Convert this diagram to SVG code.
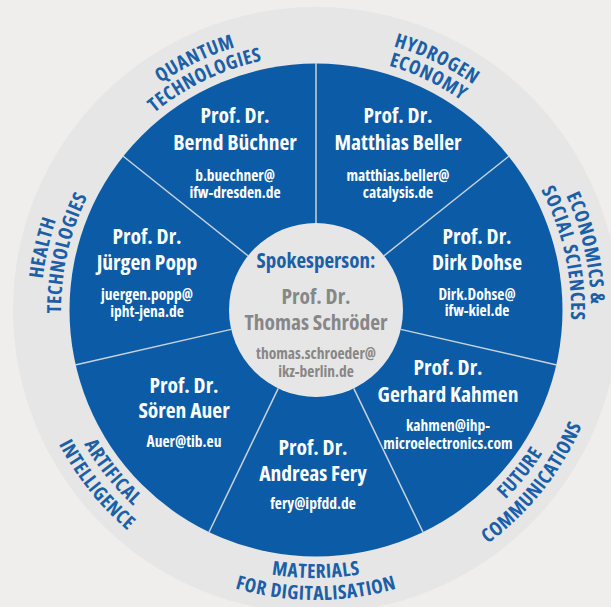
<svg xmlns="http://www.w3.org/2000/svg" xmlns:xlink="http://www.w3.org/1999/xlink" width="611" height="607" viewBox="0 0 611 607">
<style>
.t{font-family:"Open Sans","Noto Sans","DejaVu Sans",sans-serif;font-weight:700;font-stretch:condensed;text-anchor:middle}
.nm{font-size:21.5px;fill:#ffffff}
.em{font-size:15.5px;fill:#ffffff}
.gr{fill:#878787}
.sp{fill:#1a5fa8}
.rl{font-size:19.5px;fill:#1a5fa8;letter-spacing:0.6px}
.div{stroke:#c8d2dd;stroke-width:1.5}
</style>
<defs>
<path id="tOut" d="M -258.41 -94.05 A 275 275 0 0 1 258.41 -94.05"/>
<path id="tIn" d="M -239.62 -87.21 A 255 255 0 0 1 239.62 -87.21"/>
<path id="bIn" d="M -251.84 91.66 A 268 268 0 0 0 251.84 91.66"/>
<path id="bOut" d="M -272.51 99.19 A 290 290 0 0 0 272.51 99.19"/>
</defs>
<rect width="611" height="607" fill="#efeeec"/>
<circle cx="316" cy="310" r="303" fill="#e6e6e6"/>
<circle cx="316" cy="310" r="246.5" fill="#0b5ba6"/>
<g id="connectors">
<line class="div" x1="316" y1="223" x2="316" y2="63"/>
<line class="div" x1="316" y1="223" x2="316" y2="63" transform="rotate(51.4286 316 310)"/>
<line class="div" x1="316" y1="223" x2="316" y2="63" transform="rotate(102.857 316 310)"/>
<line class="div" x1="316" y1="223" x2="316" y2="63" transform="rotate(154.286 316 310)"/>
<line class="div" x1="316" y1="223" x2="316" y2="63" transform="rotate(205.714 316 310)"/>
<line class="div" x1="316" y1="223" x2="316" y2="63" transform="rotate(257.143 316 310)"/>
<line class="div" x1="316" y1="223" x2="316" y2="63" transform="rotate(308.571 316 310)"/>
</g>
<g id="ring-labels" class="t rl">
<g id="label-quantum" transform="translate(316 310) rotate(-25.714)">
<text><textPath xlink:href="#tOut" href="#tOut" startOffset="50%">QUANTUM</textPath></text>
<text><textPath xlink:href="#tIn" href="#tIn" startOffset="50%">TECHNOLOGIES</textPath></text>
</g>
<g id="label-hydrogen" transform="translate(316 310) rotate(25.714)">
<text><textPath xlink:href="#tOut" href="#tOut" startOffset="50%">HYDROGEN</textPath></text>
<text><textPath xlink:href="#tIn" href="#tIn" startOffset="50%">ECONOMY</textPath></text>
</g>
<g id="label-economics" transform="translate(316 310) rotate(77.143)">
<text><textPath xlink:href="#tOut" href="#tOut" startOffset="50%">ECONOMICS &amp;</textPath></text>
<text><textPath xlink:href="#tIn" href="#tIn" startOffset="50%">SOCIAL SCIENCES</textPath></text>
</g>
<g id="label-health" transform="translate(316 310) rotate(-77.143)">
<text><textPath xlink:href="#tOut" href="#tOut" startOffset="50%">HEALTH</textPath></text>
<text><textPath xlink:href="#tIn" href="#tIn" startOffset="50%">TECHNOLOGIES</textPath></text>
</g>
<g id="label-future" transform="translate(316 310) rotate(-51.429)">
<text><textPath xlink:href="#bIn" href="#bIn" startOffset="50%">FUTURE</textPath></text>
<text><textPath xlink:href="#bOut" href="#bOut" startOffset="50%">COMMUNICATIONS</textPath></text>
</g>
<g id="label-materials" transform="translate(316 310)">
<text><textPath xlink:href="#bIn" href="#bIn" startOffset="50%">MATERIALS</textPath></text>
<text><textPath xlink:href="#bOut" href="#bOut" startOffset="50%">FOR DIGITALISATION</textPath></text>
</g>
<g id="label-ai" transform="translate(316 310) rotate(51.429)">
<text><textPath xlink:href="#bIn" href="#bIn" startOffset="50%">ARTIFICAL</textPath></text>
<text><textPath xlink:href="#bOut" href="#bOut" startOffset="50%">INTELLIGENCE</textPath></text>
</g>
</g>
<g id="node-buechner" class="t">
<text class="nm" x="235" y="123">Prof. Dr.</text>
<text class="nm" x="235" y="150">Bernd Büchner</text>
<text class="em" x="235" y="180.5">b.buechner@</text>
<text class="em" x="235" y="197.5">ifw-dresden.de</text>
</g>
<g id="node-beller" class="t">
<text class="nm" x="398" y="123">Prof. Dr.</text>
<text class="nm" x="398" y="150">Matthias Beller</text>
<text class="em" x="398" y="180.5">matthias.beller@</text>
<text class="em" x="398" y="197.5">catalysis.de</text>
</g>
<g id="node-popp" class="t">
<text class="nm" x="147" y="244">Prof. Dr.</text>
<text class="nm" x="147" y="270">Jürgen Popp</text>
<text class="em" x="147" y="300">juergen.popp@</text>
<text class="em" x="147" y="316.5">ipht-jena.de</text>
</g>
<g id="node-dohse" class="t">
<text class="nm" x="477" y="244">Prof. Dr.</text>
<text class="nm" x="477" y="269.5">Dirk Dohse</text>
<text class="em" x="477" y="300">Dirk.Dohse@</text>
<text class="em" x="477" y="316">ifw-kiel.de</text>
</g>
<g id="node-kahmen" class="t">
<text class="nm" x="448" y="375">Prof. Dr.</text>
<text class="nm" x="448" y="401.5">Gerhard Kahmen</text>
<text class="em" x="448" y="430.5">kahmen@ihp-</text>
<text class="em" x="448" y="449">microelectronics.com</text>
</g>
<g id="node-auer" class="t">
<text class="nm" x="184" y="392.5">Prof. Dr.</text>
<text class="nm" x="184" y="418">Sören Auer</text>
<text class="em" x="184" y="446.5">Auer@tib.eu</text>
</g>
<g id="node-fery" class="t">
<text class="nm" x="313" y="455">Prof. Dr.</text>
<text class="nm" x="313" y="481">Andreas Fery</text>
<text class="em" x="313" y="509">fery@ipfdd.de</text>
</g>
<g id="node-spokesperson" class="t">
<circle cx="316" cy="310" r="87" fill="#e6e6e6"/>
<text class="nm sp" x="316" y="267.5" style="font-size:21px">Spokesperson:</text>
<text class="nm gr" x="316" y="304">Prof. Dr.</text>
<text class="nm gr" x="316" y="329.5">Thomas Schröder</text>
<text class="em gr" x="316" y="358.5">thomas.schroeder@</text>
<text class="em gr" x="316" y="376.5">ikz-berlin.de</text>
</g>
</svg>
